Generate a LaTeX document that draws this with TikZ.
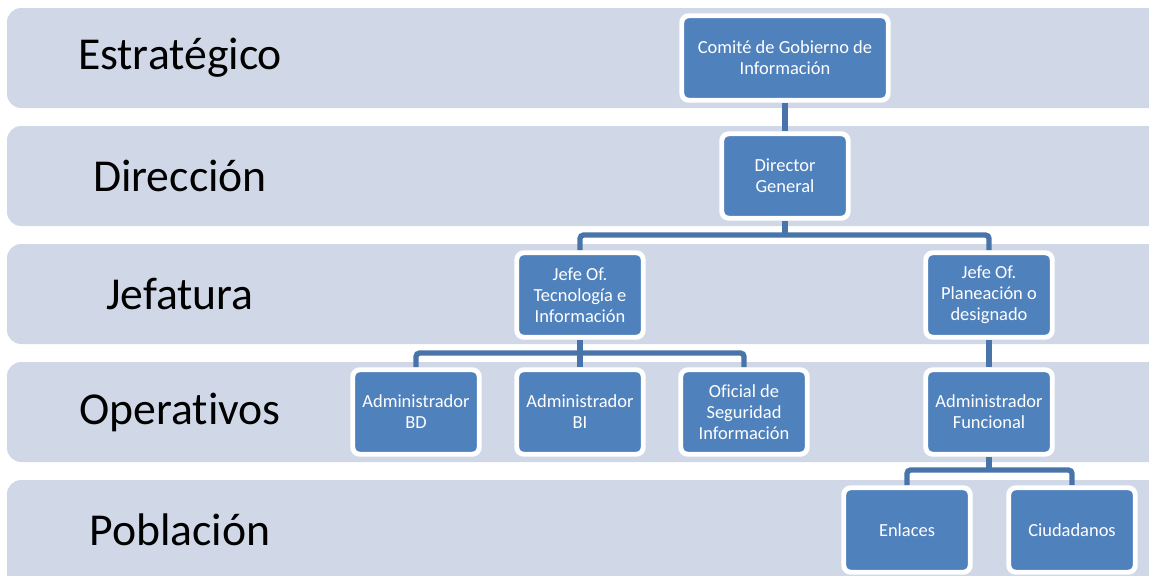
\documentclass[tikz,border=0pt]{standalone}
\usepackage{fontspec}
\setmainfont{Carlito}[Ligatures=NoCommon]
\usetikzlibrary{backgrounds}

\definecolor{banda}{RGB}{208,216,232}
\definecolor{caja}{RGB}{79,129,189}
\definecolor{enlace}{RGB}{72,116,170}

\tikzset{
  banda/.style={fill=banda, rounded corners=8pt},
  nivel/.style={font=\fontsize{26}{31}\selectfont, text=black},
  cargo/.style={draw=white, line width=2.8pt, fill=caja, rounded corners=4pt,
    text=white, align=center, minimum width=2.53cm, minimum height=1.69cm,
    inner sep=1pt, font=\fontsize{10.5}{12}\selectfont},
  enlace/.style={draw=enlace, line width=3pt, rounded corners=2pt}
}

\begin{document}
\begin{tikzpicture}[x=0.02cm, y=-0.02cm]
        \useasboundingbox (0,0) rectangle (1149,575);

        % Bandas
        \begin{scope}[on background layer]
            \fill[banda] (7,8) rectangle (1170,108);
            \fill[banda] (7,126) rectangle (1170,226);
            \fill[banda] (7,244) rectangle (1170,344);
            \fill[banda] (7,362) rectangle (1170,462);
            \fill[banda] (7,480) rectangle (1170,600);
        \end{scope}

        \node[nivel] (estrategico) at (180,58) {Estratégico};
        \node[nivel] (direccion) at (180,176) {Dirección};
        \node[nivel] (jefatura) at (180,294) {Jefatura};
        \node[nivel] (operativos) at (180,412) {Operativos};
        \node[nivel] (poblacion) at (180,530) {Población};

        % Cargos
        \node[cargo, minimum width=4.13cm] (comite) at (785,58)
            {Comité de Gobierno de\\Información};
        \node[cargo] (director) at (785,176) {Director\\General};

        \node[cargo] (jefetec) at (580,295) {Jefe Of.\\Tecnología e\\Información};
        \node[cargo] (jefepla) at (989,295) {Jefe Of.\\Planeación o\\designado};

        \node[cargo] (admbd) at (416,412) {Administrador\\BD};
        \node[cargo] (admbi) at (580,412) {Administrador\\BI};
        \node[cargo] (oficial) at (744,412) {Oficial de\\Seguridad\\Información};
        \node[cargo] (admfun) at (989,412) {Administrador\\Funcional};

        \node[cargo] (enlaces) at (907,530) {Enlaces};
        \node[cargo] (ciudadanos) at (1072,530) {Ciudadanos};

        % Conectores
        \begin{scope}[on background layer]
            \coordinate (r1) at (785,235);
            \coordinate (r2) at (580,353);
            \coordinate (r3) at (989,470);

            \draw[enlace] (comite) -- (director);
            \draw[enlace] (director) -- (r1);
            \draw[enlace] (jefetec) |- (r1) -| (jefepla);

            \draw[enlace] (jefetec) -- (r2);
            \draw[enlace] (admbd) |- (r2) -| (oficial);
            \draw[enlace] (admbi) -- (r2);

            \draw[enlace] (jefepla) -- (admfun);
            \draw[enlace] (admfun) -- (r3);
            \draw[enlace] (enlaces) |- (r3) -| (ciudadanos);
        \end{scope}
    \end{tikzpicture}
\end{document}
